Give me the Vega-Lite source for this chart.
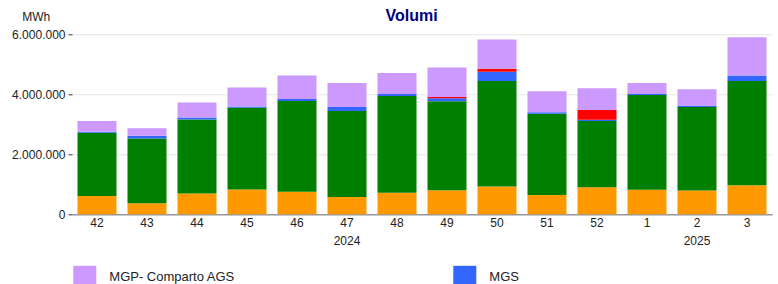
{
  "$schema": "https://vega.github.io/schema/vega-lite/v6.json",
  "width": 700,
  "height": 180,
  "autosize": {"type": "none"},
  "padding": {"left": 72, "top": 34.3, "right": 6, "bottom": 69.7},
  "background": "white",
  "config": {
    "font": "Liberation Sans",
    "view": {"stroke": null},
    "locale": {"number": {"decimal": ",", "thousands": ".", "grouping": [3], "currency": ["", " €"]}}
  },
  "title": {
    "text": "Volumi",
    "fontSize": 16,
    "fontWeight": "bold",
    "color": "#000080",
    "anchor": "middle",
    "frame": "group",
    "dx": -10.5,
    "offset": 0,
    "dy": 26.5,
    "baseline": "alphabetic"
  },
  "data": {
    "values": [
      {"settimana": "42", "mercato": "MGP-GAS", "volume": 610000},
      {"settimana": "42", "mercato": "MI-GAS", "volume": 2110000},
      {"settimana": "42", "mercato": "MGS", "volume": 30000},
      {"settimana": "42", "mercato": "MGP- Comparto AGS", "volume": 360000},
      {"settimana": "43", "mercato": "MGP-GAS", "volume": 370000},
      {"settimana": "43", "mercato": "MI-GAS", "volume": 2160000},
      {"settimana": "43", "mercato": "MGS", "volume": 90000},
      {"settimana": "43", "mercato": "MGP- Comparto AGS", "volume": 250000},
      {"settimana": "44", "mercato": "MGP-GAS", "volume": 690000},
      {"settimana": "44", "mercato": "MI-GAS", "volume": 2470000},
      {"settimana": "44", "mercato": "MGS", "volume": 70000},
      {"settimana": "44", "mercato": "MGP- Comparto AGS", "volume": 500000},
      {"settimana": "45", "mercato": "MGP-GAS", "volume": 830000},
      {"settimana": "45", "mercato": "MI-GAS", "volume": 2720000},
      {"settimana": "45", "mercato": "MGS", "volume": 40000},
      {"settimana": "45", "mercato": "MGP- Comparto AGS", "volume": 640000},
      {"settimana": "46", "mercato": "MGP-GAS", "volume": 750000},
      {"settimana": "46", "mercato": "MI-GAS", "volume": 3030000},
      {"settimana": "46", "mercato": "MGS", "volume": 60000},
      {"settimana": "46", "mercato": "MGP- Comparto AGS", "volume": 790000},
      {"settimana": "47", "mercato": "MGP-GAS", "volume": 580000},
      {"settimana": "47", "mercato": "MI-GAS", "volume": 2860000},
      {"settimana": "47", "mercato": "MGS", "volume": 140000},
      {"settimana": "47", "mercato": "MGP- Comparto AGS", "volume": 800000},
      {"settimana": "48", "mercato": "MGP-GAS", "volume": 720000},
      {"settimana": "48", "mercato": "MI-GAS", "volume": 3220000},
      {"settimana": "48", "mercato": "MGS", "volume": 70000},
      {"settimana": "48", "mercato": "MGP- Comparto AGS", "volume": 700000},
      {"settimana": "49", "mercato": "MGP-GAS", "volume": 800000},
      {"settimana": "49", "mercato": "MI-GAS", "volume": 2970000},
      {"settimana": "49", "mercato": "MGS", "volume": 100000},
      {"settimana": "49", "mercato": "MT-GAS", "volume": 40000},
      {"settimana": "49", "mercato": "MGP- Comparto AGS", "volume": 980000},
      {"settimana": "50", "mercato": "MGP-GAS", "volume": 930000},
      {"settimana": "50", "mercato": "MI-GAS", "volume": 3510000},
      {"settimana": "50", "mercato": "MGS", "volume": 310000},
      {"settimana": "50", "mercato": "MT-GAS", "volume": 100000},
      {"settimana": "50", "mercato": "MGP- Comparto AGS", "volume": 980000},
      {"settimana": "51", "mercato": "MGP-GAS", "volume": 640000},
      {"settimana": "51", "mercato": "MI-GAS", "volume": 2710000},
      {"settimana": "51", "mercato": "MGS", "volume": 50000},
      {"settimana": "51", "mercato": "MGP- Comparto AGS", "volume": 700000},
      {"settimana": "52", "mercato": "MGP-GAS", "volume": 900000},
      {"settimana": "52", "mercato": "MI-GAS", "volume": 2210000},
      {"settimana": "52", "mercato": "MGS", "volume": 40000},
      {"settimana": "52", "mercato": "MT-GAS", "volume": 330000},
      {"settimana": "52", "mercato": "MGP- Comparto AGS", "volume": 720000},
      {"settimana": "1", "mercato": "MGP-GAS", "volume": 820000},
      {"settimana": "1", "mercato": "MI-GAS", "volume": 3160000},
      {"settimana": "1", "mercato": "MGS", "volume": 30000},
      {"settimana": "1", "mercato": "MGP- Comparto AGS", "volume": 370000},
      {"settimana": "2", "mercato": "MGP-GAS", "volume": 790000},
      {"settimana": "2", "mercato": "MI-GAS", "volume": 2790000},
      {"settimana": "2", "mercato": "MGS", "volume": 40000},
      {"settimana": "2", "mercato": "MGP- Comparto AGS", "volume": 550000},
      {"settimana": "3", "mercato": "MGP-GAS", "volume": 970000},
      {"settimana": "3", "mercato": "MI-GAS", "volume": 3470000},
      {"settimana": "3", "mercato": "MGS", "volume": 190000},
      {"settimana": "3", "mercato": "MGP- Comparto AGS", "volume": 1270000}
    ]
  },
  "transform": [
    {"calculate": "indexof(['MGP-GAS', 'MI-GAS', 'MGS', 'MT-GAS', 'MGP- Comparto AGS'], datum.mercato)", "as": "ordine"}
  ],
  "mark": {"type": "bar"},
  "encoding": {
    "x": {
      "field": "settimana",
      "type": "nominal",
      "sort": ["42", "43", "44", "45", "46", "47", "48", "49", "50", "51", "52", "1", "2", "3"],
      "scale": {"paddingInner": 0.22, "paddingOuter": 0.11},
      "axis": {
        "title": null,
        "labelAngle": 0,
        "ticks": false,
        "domainColor": "#999999",
        "domainWidth": 1.5,
        "labelFontSize": 12,
        "labelColor": "#222222",
        "labelPadding": 3,
        "labelLineHeight": 18,
        "labelExpr": "datum.value == '47' ? ['47', '2024'] : datum.value == '2' ? ['2', '2025'] : datum.label"
      }
    },
    "y": {
      "field": "volume",
      "type": "quantitative",
      "stack": "zero",
      "scale": {"domain": [0, 6000000], "nice": false},
      "axis": {
        "title": "MWh",
        "titleAngle": 0,
        "titleAlign": "left",
        "titleBaseline": "alphabetic",
        "titleX": -50.3,
        "titleY": -14,
        "titleFontWeight": "normal",
        "titleFontSize": 12,
        "titleColor": "#222222",
        "values": [0, 2000000, 4000000, 6000000],
        "format": ",d",
        "domain": false,
        "tickSize": 4,
        "tickColor": "#333333",
        "labelPadding": 3,
        "labelFontSize": 12,
        "labelColor": "#222222",
        "gridColor": "#e6e6e6"
      }
    },
    "order": {"field": "ordine", "type": "quantitative", "sort": "ascending"},
    "color": {
      "field": "mercato",
      "type": "nominal",
      "scale": {
        "domain": ["MGP-GAS", "MI-GAS", "MGS", "MT-GAS", "MGP- Comparto AGS"],
        "range": ["#ff9900", "#008000", "#3366ff", "#ff0000", "#cc99ff"]
      },
      "legend": {
        "title": null,
        "orient": "none",
        "legendX": 1.3,
        "legendY": 231.5,
        "direction": "horizontal",
        "columns": 2,
        "columnPadding": 218,
        "symbolType": "square",
        "symbolSize": 529,
        "symbolStrokeWidth": 0,
        "symbolOpacity": 1,
        "labelFontSize": 13,
        "labelColor": "#222222",
        "labelOffset": 13,
        "labelExpr": "datum.label == 'MGS' ? '\u2002\u2002MGS' : datum.label",
        "padding": 0,
        "values": ["MGP- Comparto AGS", "MGS"]
      }
    }
  }
}
